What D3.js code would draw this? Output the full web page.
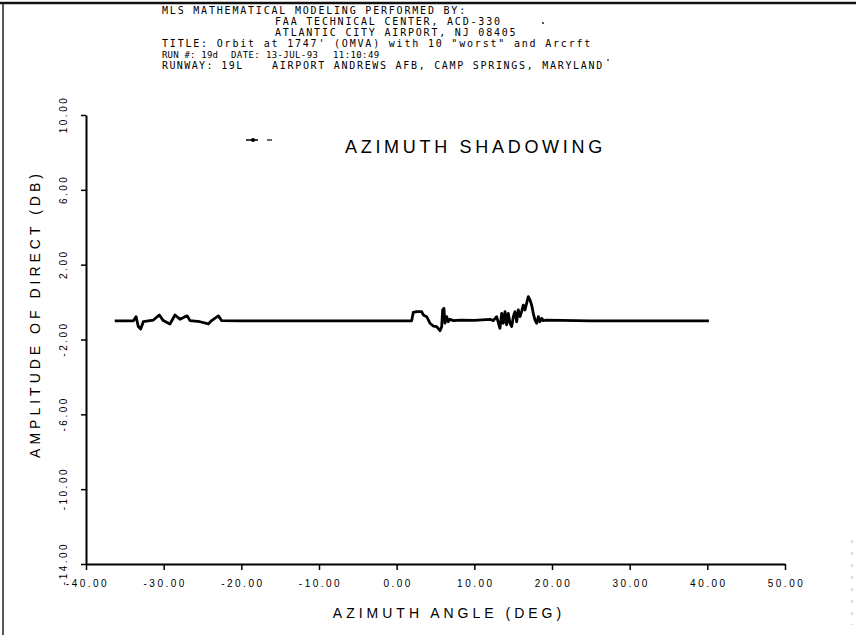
<!DOCTYPE html>
<html>
<head>
<meta charset="utf-8">
<script src="https://cdn.jsdelivr.net/npm/d3@7"></script>
<style>
  html, body { margin: 0; padding: 0; background: #fff; }
  svg { display: block; }
  text { fill: #000; font-family: "Liberation Sans", Arial, sans-serif; }
</style>
</head>
<body>
<div id="chart"></div>
<script>
// ---- data ----
const azimuth = [-36.3, -33.9, -33.56, -33.26, -32.96, -32.62, -31.33, -30.56, -30.05, -29.19,
  -28.54, -27.9, -27.25, -26.96, -26.61, -25.32, -24.25, -23.82, -22.96, -22.53,
  -20, -10, 0, 1.93, 2.14, 2.58, 3.22, 3.43, 3.86, 4.29,
  4.72, 5.15, 5.58, 5.80, 5.92, 6.09, 6.22, 6.44, 6.65, 6.87,
  7.29, 8.15, 10, 12.01, 12.44, 12.87, 13.30, 13.52, 13.73, 13.95,
  14.16, 14.37, 14.59, 14.81, 15.02, 15.23, 15.45, 15.66, 15.88, 16.09,
  16.30, 16.52, 16.74, 16.95, 17.17, 17.38, 17.59, 17.81, 18.03, 18.24,
  18.45, 18.67, 18.88, 19.31, 25, 30, 40.2];
const amplitude = [-1.0, -1.0, -0.78, -1.31, -1.44, -1.05, -0.96, -0.69, -0.99, -1.17,
  -0.69, -0.92, -0.78, -0.74, -0.99, -1.05, -1.17, -0.99, -0.74, -0.99,
  -1.0, -1.0, -1.0, -1.0, -0.55, -0.51, -0.51, -0.69, -0.78, -1.13,
  -1.28, -1.31, -1.53, -1.31, -0.42, -0.33, -1.13, -0.78, -1.05, -0.92,
  -0.99, -0.96, -0.98, -0.92, -0.99, -0.78, -1.40, -0.60, -1.13, -0.51,
  -1.22, -0.60, -1.13, -1.31, -0.78, -0.51, -1.05, -0.42, -0.78, -0.51,
  -0.16, -0.42, -0.06, 0.29, 0.11, -0.16, -0.60, -0.96, -1.13, -0.78,
  -1.05, -0.87, -0.99, -0.96, -1.0, -1.0, -1.0];
const xTicks = [-40, -30, -20, -10, 0, 10, 20, 30, 40, 50];
const yTicks = [10, 6, 2, -2, -6, -10, -14];
const headerLines = [
  "MLS MATHEMATICAL MODELING PERFORMED BY:",
  "FAA TECHNICAL CENTER, ACD-330",
  "ATLANTIC CITY AIRPORT, NJ 08405",
  "TITLE: Orbit at 1747' (OMVA) with 10 \"worst\" and Arcrft",
  "RUN #: 19d",
  "DATE: 13-JUL-93",
  "11:10:49",
  "RUNWAY: 19L",
  "AIRPORT ANDREWS AFB, CAMP SPRINGS, MARYLAND"
];
const chartTitle = "AZIMUTH SHADOWING";
const xTitle = "AZIMUTH ANGLE (DEG)";
const yTitle = "AMPLITUDE OF DIRECT (DB)";

// ---- layout ----
const W = 856, H = 635;
const svg = d3.select("#chart").append("svg").attr("width", W).attr("height", H);

// page frame
svg.append("line").attr("x1", 0).attr("x2", W).attr("y1", 3).attr("y2", 3)
  .attr("stroke", "#111").attr("stroke-width", 2.5);
svg.append("line").attr("x1", 3).attr("x2", 3).attr("y1", 3).attr("y2", H)
  .attr("stroke", "#222").attr("stroke-width", 1.5);
svg.append("line").attr("x1", 852).attr("x2", 852).attr("y1", 540).attr("y2", 625)
  .attr("stroke", "#bbb").attr("stroke-width", 1).attr("stroke-dasharray", "3,9");

// header: [x, y, font-size, letter-spacing]
const hdrPos = [[162, 14, 10, 1.8], [275, 25, 10, 1.8], [275, 36, 10, 1.8], [162, 47, 10, 1.8],
  [162, 58, 9, 0.2], [231, 58, 9, 0.4], [333, 58, 9, 0.4], [162, 69, 10, 1.4], [272, 69, 10, 1.7]];
headerLines.forEach((t, i) => {
  svg.append("text").attr("x", hdrPos[i][0]).attr("y", hdrPos[i][1])
    .attr("font-size", hdrPos[i][2]).attr("letter-spacing", hdrPos[i][3])
    .style("font-family", "'DejaVu Sans Mono', monospace")
    .text(t);
});
svg.append("circle").attr("cx", 543).attr("cy", 23).attr("r", 1).attr("fill", "#222");
svg.append("circle").attr("cx", 608).attr("cy", 60).attr("r", 0.9).attr("fill", "#333");

// scales
const x = d3.scaleLinear().domain([-40, 50]).range([86, 785]);
const y = d3.scaleLinear().domain([-14, 10]).range([564, 115]);

// x axis
const gx = svg.append("g").attr("transform", `translate(0,${y(-14)})`)
  .call(d3.axisBottom(x).tickValues(xTicks).tickSize(6).tickSizeOuter(0)
    .tickFormat(d => d.toFixed(2)));
gx.select(".domain").attr("stroke-width", 2).attr("stroke", "#000");
gx.selectAll(".tick line").attr("stroke-width", 1.5).attr("stroke", "#000");
gx.selectAll(".tick text").attr("y", 23).attr("dy", 0).attr("dx", 1)
  .attr("font-size", 10).attr("letter-spacing", 2.5)
  .style("font-family", "'Liberation Sans', Arial, sans-serif");

// y axis
const gy = svg.append("g").attr("transform", `translate(${x(-40)},0)`)
  .call(d3.axisLeft(y).tickValues(yTicks).tickSize(5).tickSizeOuter(0)
    .tickFormat(d => d.toFixed(2)));
gy.select(".domain").attr("stroke-width", 2).attr("stroke", "#000");
gy.selectAll(".tick line").attr("stroke-width", 1.5).attr("stroke", "#000");
gy.selectAll(".tick text")
  .attr("transform", "rotate(-90)")
  .attr("x", 1).attr("y", -19.5).attr("dy", 0)
  .attr("text-anchor", "middle")
  .attr("font-size", 10).attr("letter-spacing", 2.5)
  .style("font-family", "'Liberation Sans', Arial, sans-serif");

// titles
svg.append("text").attr("x", 345).attr("y", 153)
  .attr("font-size", 18).attr("letter-spacing", 3.7).text(chartTitle);
svg.append("text").attr("x", 449).attr("y", 618).attr("text-anchor", "middle")
  .attr("font-size", 14).attr("letter-spacing", 4).text(xTitle);
svg.append("text").attr("transform", "translate(40,314) rotate(-90)")
  .attr("text-anchor", "middle")
  .attr("font-size", 14).attr("letter-spacing", 4).text(yTitle);

// small legend marker
svg.append("line").attr("x1", 246).attr("x2", 258).attr("y1", 140).attr("y2", 140)
  .attr("stroke", "#000").attr("stroke-width", 1.5);
svg.append("circle").attr("cx", 253).attr("cy", 140).attr("r", 2).attr("fill", "#000");
svg.append("line").attr("x1", 267).attr("x2", 272).attr("y1", 140).attr("y2", 140)
  .attr("stroke", "#000").attr("stroke-width", 1.2);

// data line
const pts = azimuth.map((a, i) => [a, amplitude[i]]);
svg.append("path").datum(pts)
  .attr("fill", "none").attr("stroke", "#000").attr("stroke-width", 2.8)
  .attr("stroke-linejoin", "round")
  .attr("d", d3.line().x(d => x(d[0])).y(d => y(d[1])));
</script>
</body>
</html>
